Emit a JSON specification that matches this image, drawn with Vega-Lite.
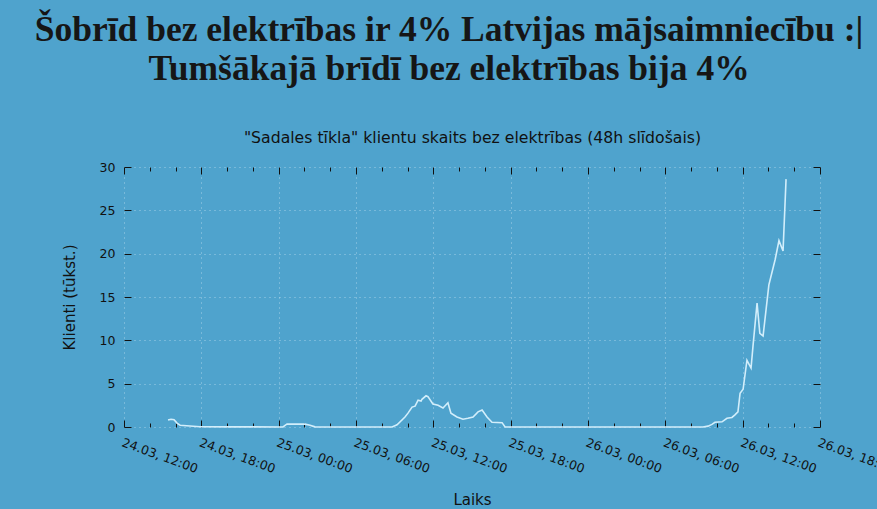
{
  "$schema": "https://vega.github.io/schema/vega-lite/v6.json",
  "width": 696,
  "height": 260,
  "autosize": {"type": "none"},
  "padding": {"left": 124, "top": 167, "right": 57, "bottom": 82},
  "background": "#4fa3cd",
  "config": {
    "view": {"stroke": null},
    "axis": {"labelFont": "DejaVu Sans", "titleFont": "DejaVu Sans", "labelColor": "#111111", "titleColor": "#111111", "tickColor": "#111111", "domain": false, "titleFontWeight": "normal"}
  },
  "title": {
    "text": ["Šobrīd bez elektrības ir 4% Latvijas mājsaimniecību :|", "Tumšākajā brīdī bez elektrības bija 4%"],
    "font": "Liberation Serif",
    "fontSize": 35.5,
    "fontWeight": "bold",
    "color": "#161616",
    "lineHeight": 39,
    "anchor": "middle",
    "frame": "group",
    "dx": -23,
    "offset": 42
  },
  "data": {
    "values": [
      {"t": "2024-03-24T15:25", "v": 0.8},
      {"t": "2024-03-24T15:39", "v": 0.9},
      {"t": "2024-03-24T15:53", "v": 0.85},
      {"t": "2024-03-24T16:07", "v": 0.45},
      {"t": "2024-03-24T16:21", "v": 0.2},
      {"t": "2024-03-24T17:07", "v": 0.12},
      {"t": "2024-03-24T17:54", "v": 0.03},
      {"t": "2024-03-24T20:13", "v": 0.02},
      {"t": "2024-03-25T00:20", "v": 0.0},
      {"t": "2024-03-25T00:39", "v": 0.35},
      {"t": "2024-03-25T02:03", "v": 0.33},
      {"t": "2024-03-25T02:26", "v": 0.2},
      {"t": "2024-03-25T02:49", "v": 0.02},
      {"t": "2024-03-25T08:48", "v": 0.0},
      {"t": "2024-03-25T09:11", "v": 0.25},
      {"t": "2024-03-25T09:48", "v": 1.15},
      {"t": "2024-03-25T10:02", "v": 1.6},
      {"t": "2024-03-25T10:21", "v": 2.3},
      {"t": "2024-03-25T10:35", "v": 2.4},
      {"t": "2024-03-25T10:49", "v": 3.1},
      {"t": "2024-03-25T11:03", "v": 3.0},
      {"t": "2024-03-25T11:07", "v": 3.2},
      {"t": "2024-03-25T11:26", "v": 3.6},
      {"t": "2024-03-25T11:35", "v": 3.5},
      {"t": "2024-03-25T11:58", "v": 2.65},
      {"t": "2024-03-25T12:22", "v": 2.5},
      {"t": "2024-03-25T12:45", "v": 2.2},
      {"t": "2024-03-25T13:08", "v": 2.8},
      {"t": "2024-03-25T13:22", "v": 1.6},
      {"t": "2024-03-25T13:50", "v": 1.15},
      {"t": "2024-03-25T14:18", "v": 0.9},
      {"t": "2024-03-25T14:41", "v": 1.0},
      {"t": "2024-03-25T15:05", "v": 1.15},
      {"t": "2024-03-25T15:28", "v": 1.75},
      {"t": "2024-03-25T15:47", "v": 1.95},
      {"t": "2024-03-25T16:10", "v": 1.15},
      {"t": "2024-03-25T16:33", "v": 0.55},
      {"t": "2024-03-25T17:20", "v": 0.5},
      {"t": "2024-03-25T17:34", "v": 0.0},
      {"t": "2024-03-26T08:55", "v": 0.0},
      {"t": "2024-03-26T09:19", "v": 0.1},
      {"t": "2024-03-26T09:37", "v": 0.3},
      {"t": "2024-03-26T09:51", "v": 0.55},
      {"t": "2024-03-26T10:24", "v": 0.6},
      {"t": "2024-03-26T10:47", "v": 1.0},
      {"t": "2024-03-26T11:10", "v": 1.1},
      {"t": "2024-03-26T11:24", "v": 1.4},
      {"t": "2024-03-26T11:38", "v": 1.75},
      {"t": "2024-03-26T11:48", "v": 3.9},
      {"t": "2024-03-26T12:02", "v": 4.35},
      {"t": "2024-03-26T12:20", "v": 7.7},
      {"t": "2024-03-26T12:39", "v": 6.8},
      {"t": "2024-03-26T12:48", "v": 9.3},
      {"t": "2024-03-26T13:07", "v": 14.3},
      {"t": "2024-03-26T13:20", "v": 10.8},
      {"t": "2024-03-26T13:35", "v": 10.5},
      {"t": "2024-03-26T14:02", "v": 16.4},
      {"t": "2024-03-26T14:31", "v": 19.3},
      {"t": "2024-03-26T14:49", "v": 21.5},
      {"t": "2024-03-26T15:08", "v": 20.3},
      {"t": "2024-03-26T15:22", "v": 28.6}
    ]
  },
  "resolve": {"axis": {"x": "independent", "y": "independent"}},
  "layer": [
    {
      "mark": {"type": "line", "color": "#d2eefb", "strokeWidth": 1.6},
      "encoding": {
        "x": {
          "field": "t", "type": "temporal",
          "scale": {"domain": ["2024-03-24T12:00", "2024-03-26T18:00"]},
          "axis": {
            "orient": "bottom", "tickCount": 9, "format": "%d.%m, %H:%M",
            "labelAngle": 20, "labelAlign": "left", "labelBaseline": "top", "labelFontSize": 12.5,
            "labelPadding": 16, "tickSize": -7, "labelOverlap": false, "labelFlush": false, "labelBound": false,
            "grid": true, "gridColor": "#d8eef9", "gridOpacity": 0.6, "gridDash": [1, 4],
            "title": "Laiks", "titleFontSize": 15, "titlePadding": 17
          }
        },
        "y": {
          "field": "v", "type": "quantitative",
          "scale": {"domain": [0, 30]},
          "axis": {
            "orient": "left", "values": [0, 5, 10, 15, 20, 25, 30], "labelFontSize": 12.5,
            "labelPadding": 16, "tickSize": -7,
            "grid": true, "gridColor": "#d8eef9", "gridOpacity": 0.6, "gridDash": [1, 4],
            "title": "Klienti (tūkst.)", "titleFontSize": 15, "titlePadding": 22
          }
        }
      }
    },
    {
      "mark": {"type": "line", "strokeOpacity": 0},
      "encoding": {
        "x": {
          "field": "t", "type": "temporal",
          "axis": {
            "orient": "top", "tickCount": 9, "labels": false, "tickSize": -7, "grid": false,
            "title": "\"Sadales tīkla\" klientu skaits bez elektrības (48h slīdošais)", "titleFontSize": 15.7, "titlePadding": 21
          }
        },
        "y": {
          "field": "v", "type": "quantitative",
          "axis": {"orient": "right", "values": [0, 5, 10, 15, 20, 25, 30], "labels": false, "tickSize": -7, "grid": false, "title": null}
        }
      }
    },
    {
      "mark": {"type": "line", "strokeOpacity": 0},
      "encoding": {
        "x": {
          "field": "t", "type": "temporal",
          "axis": {
            "orient": "bottom", "labels": false, "tickSize": -4, "grid": false, "title": null,
            "values": [
              {"year": 2024, "month": 3, "date": 24, "hours": 14}, {"year": 2024, "month": 3, "date": 24, "hours": 16},
              {"year": 2024, "month": 3, "date": 24, "hours": 20}, {"year": 2024, "month": 3, "date": 24, "hours": 22},
              {"year": 2024, "month": 3, "date": 25, "hours": 2}, {"year": 2024, "month": 3, "date": 25, "hours": 4},
              {"year": 2024, "month": 3, "date": 25, "hours": 8}, {"year": 2024, "month": 3, "date": 25, "hours": 10},
              {"year": 2024, "month": 3, "date": 25, "hours": 14}, {"year": 2024, "month": 3, "date": 25, "hours": 16},
              {"year": 2024, "month": 3, "date": 25, "hours": 20}, {"year": 2024, "month": 3, "date": 25, "hours": 22},
              {"year": 2024, "month": 3, "date": 26, "hours": 2}, {"year": 2024, "month": 3, "date": 26, "hours": 4},
              {"year": 2024, "month": 3, "date": 26, "hours": 8}, {"year": 2024, "month": 3, "date": 26, "hours": 10},
              {"year": 2024, "month": 3, "date": 26, "hours": 14}, {"year": 2024, "month": 3, "date": 26, "hours": 16}
            ]
          }
        },
        "y": {"field": "v", "type": "quantitative", "axis": null}
      }
    },
    {
      "mark": {"type": "line", "strokeOpacity": 0},
      "encoding": {
        "x": {
          "field": "t", "type": "temporal",
          "axis": {
            "orient": "top", "labels": false, "tickSize": -4, "grid": false, "title": null,
            "values": [
              {"year": 2024, "month": 3, "date": 24, "hours": 14}, {"year": 2024, "month": 3, "date": 24, "hours": 16},
              {"year": 2024, "month": 3, "date": 24, "hours": 20}, {"year": 2024, "month": 3, "date": 24, "hours": 22},
              {"year": 2024, "month": 3, "date": 25, "hours": 2}, {"year": 2024, "month": 3, "date": 25, "hours": 4},
              {"year": 2024, "month": 3, "date": 25, "hours": 8}, {"year": 2024, "month": 3, "date": 25, "hours": 10},
              {"year": 2024, "month": 3, "date": 25, "hours": 14}, {"year": 2024, "month": 3, "date": 25, "hours": 16},
              {"year": 2024, "month": 3, "date": 25, "hours": 20}, {"year": 2024, "month": 3, "date": 25, "hours": 22},
              {"year": 2024, "month": 3, "date": 26, "hours": 2}, {"year": 2024, "month": 3, "date": 26, "hours": 4},
              {"year": 2024, "month": 3, "date": 26, "hours": 8}, {"year": 2024, "month": 3, "date": 26, "hours": 10},
              {"year": 2024, "month": 3, "date": 26, "hours": 14}, {"year": 2024, "month": 3, "date": 26, "hours": 16}
            ]
          }
        },
        "y": {"field": "v", "type": "quantitative", "axis": null}
      }
    }
  ]
}
